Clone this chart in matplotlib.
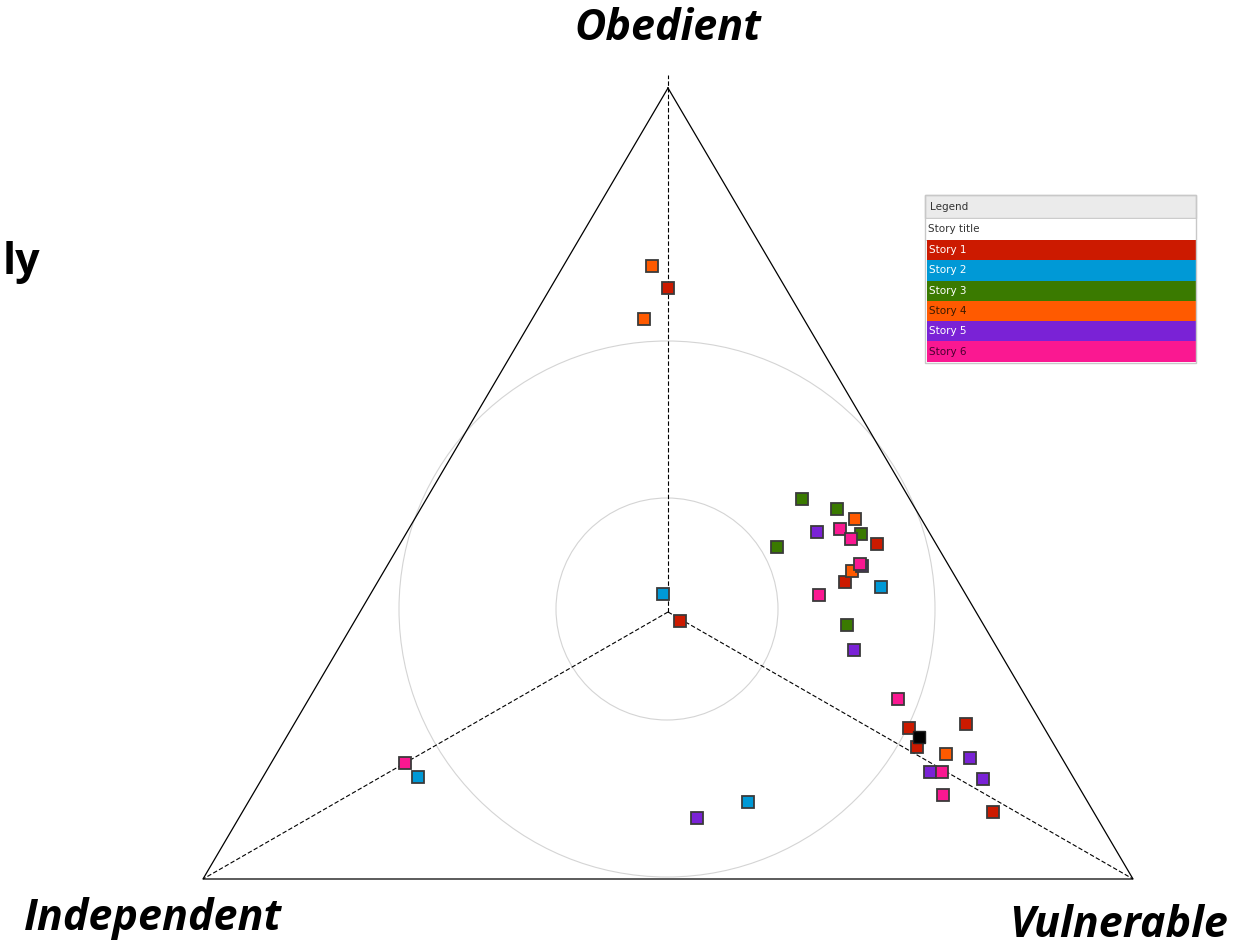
import matplotlib.pyplot as plt
from matplotlib.patches import Rectangle, Circle

# chart coordinates: origin at triangle centre, one unit ~ one pixel
apex_top = (0, 524)
apex_left = (-465, -267)
apex_right = (465, -267)

story_names = ["Story 1", "Story 2", "Story 3", "Story 4", "Story 5", "Story 6"]
story_colors = ["#cc1a00", "#0099d6", "#3a7a00", "#ff5a00", "#7a22d6", "#fa1891"]
story_text = ["white", "white", "white", "#3a1a00", "white", "#4a0030"]

story_x = [
    [0, 12, 209, 177, 241, 249, 298, 325],
    [-5, 213, -250, 80],
    [134, 169, 193, 109, 179],
    [-16, -24, 187, 184, 278],
    [149, 194, 186, 302, 262, 315, 29],
    [172, 183, 192, 151, 230, 274, 275, -263],
]
story_y = [
    [324, -9, 68, 30, -116, -135, -112, -200],
    [18, 25, -165, -190],
    [113, 103, 78, 65, -13],
    [346, 293, 93, 41, -142],
    [80, 46, -38, -146, -160, -167, -206],
    [83, 73, 48, 17, -87, -160, -183, -151],
]
unknown_x = [251]
unknown_y = [-125]

axis_labels = ["Obedient", "Independent", "Vulnerable"]


def draw_chart():
    fig = plt.figure(figsize=(12.46, 9.46), dpi=100)
    ax = fig.add_axes([0, 0, 1, 1])
    ax.set_xlim(-668, 578)
    ax.set_ylim(-334, 612)
    ax.axis("off")

    # reference circles
    for r in [268, 111]:
        ax.add_patch(Circle((-1, 3), r, fill=False, edgecolor="#d4d4d4", linewidth=0.8))

    # triangle outline
    tx = [apex_top[0], apex_right[0], apex_left[0], apex_top[0]]
    ty = [apex_top[1], apex_right[1], apex_left[1], apex_top[1]]
    ax.plot(tx, ty, color="black", linewidth=0.9)

    # dashed spokes
    ax.plot([0, 0], [0, apex_top[1] + 13], color="black", linestyle="--", linewidth=0.8, dashes=(4, 2))
    for vx, vy in [apex_left, apex_right]:
        ax.plot([0, vx], [0, vy], color="black", linestyle="--", linewidth=0.8, dashes=(4, 2))

    # points
    for xs, ys, c in zip(story_x, story_y, story_colors):
        ax.plot(xs, ys, linestyle="none", marker="s", markersize=8,
                markerfacecolor=c, markeredgecolor="#3a3a3a", markeredgewidth=1.3, zorder=3)
    ax.plot(unknown_x, unknown_y, linestyle="none", marker="s", markersize=8,
            markerfacecolor="black", markeredgecolor="#222222", zorder=3)

    # axis labels
    font = dict(fontsize=31, fontweight="bold", fontstyle="italic", family="Open Sans")
    ax.text(0, 583, axis_labels[0], ha="center", va="center", **font)
    ax.text(-515, -306, axis_labels[1], ha="center", va="center", **font)
    ax.text(451, -313, axis_labels[2], ha="center", va="center", **font)
    ax.text(-628, 350, "ly", ha="right", va="center", fontsize=31, fontweight="bold", family="Open Sans")

    # legend panel
    left, right = 257, 528
    top = 417
    ax.add_patch(Rectangle((left, top - 23), right - left, 23, facecolor="#ebebeb",
                           edgecolor="#c8c8c8", linewidth=1, zorder=4))
    ax.text(left + 5, top - 12, "Legend", fontsize=7.5, color="#333333", va="center", zorder=5)
    ax.add_patch(Rectangle((left, top - 45), right - left, 22, facecolor="white",
                           edgecolor="#c8c8c8", linewidth=0.6, zorder=4))
    ax.text(left + 3, top - 34, "Story title", fontsize=7.5, color="#333333", va="center", zorder=5)
    row_h = 20.3
    y0 = top - 45
    for i, (name, c, tc) in enumerate(zip(story_names, story_colors, story_text)):
        yb = y0 - (i + 1) * row_h
        ax.add_patch(Rectangle((left + 2, yb), right - left - 2, row_h, facecolor=c,
                               edgecolor="none", zorder=4))
        ax.text(left + 4, yb + row_h / 2, name, fontsize=7.5, color=tc, va="center", zorder=5)
    ax.add_patch(Rectangle((left, y0 - 6 * row_h - 1), right - left, 6 * row_h + 46,
                           fill=False, edgecolor="#c8c8c8", linewidth=1, zorder=6))

    fig.savefig("out.png", dpi=100)
    plt.close(fig)


if __name__ == "__main__":
    draw_chart()
